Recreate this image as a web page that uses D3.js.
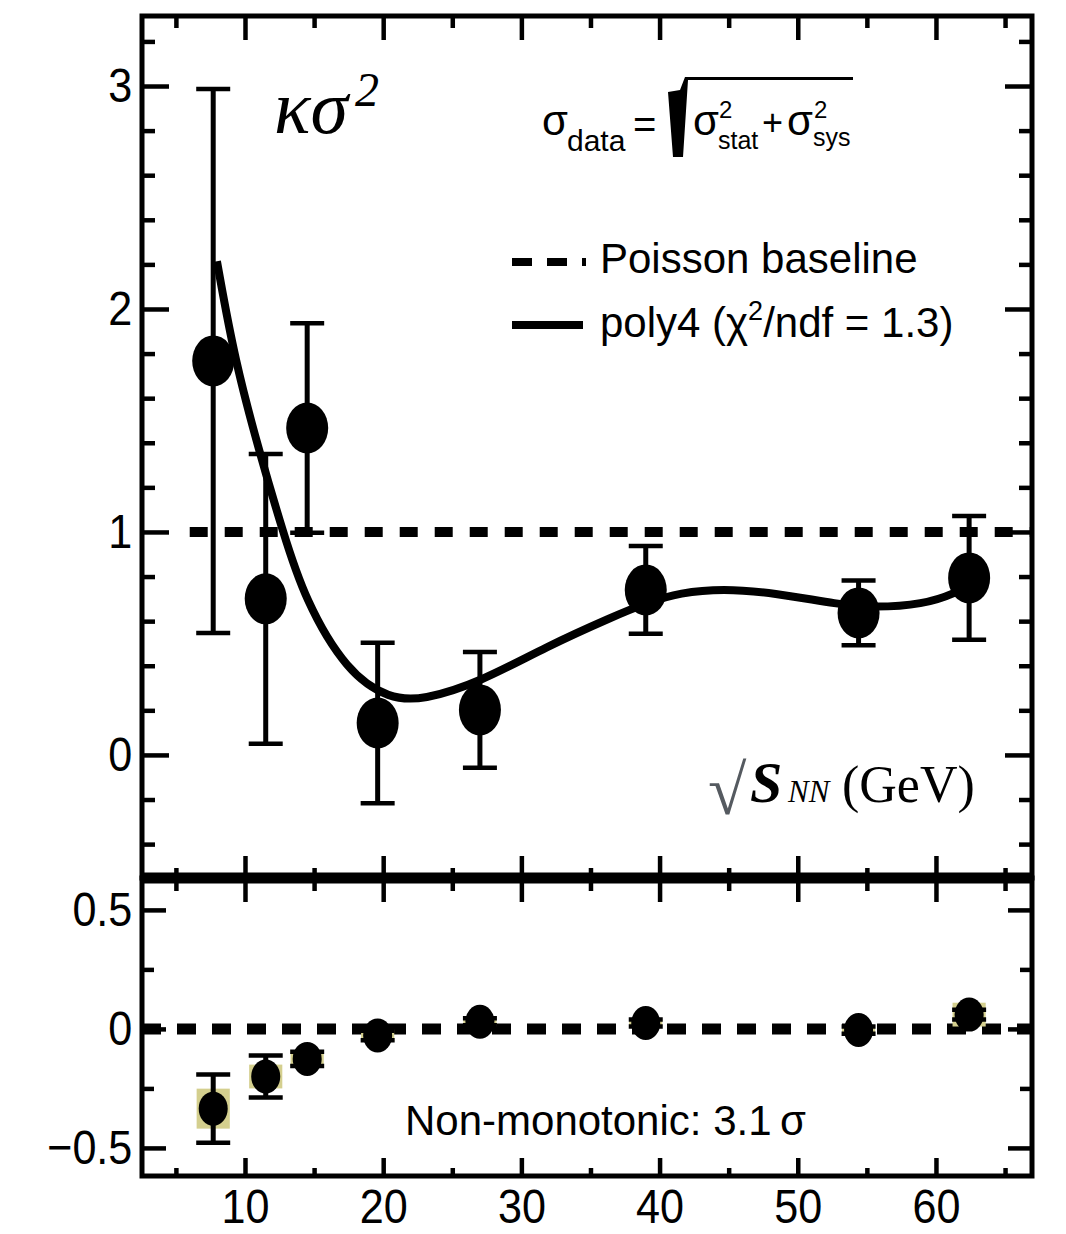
<!DOCTYPE html>
<html>
<head>
<meta charset="utf-8">
<script src="https://cdn.jsdelivr.net/npm/d3@7"></script>
<style>
  body { margin: 0; background: #fff; }
  text { font-family: "Liberation Sans", Arial, sans-serif; fill: #000; }
</style>
</head>
<body>
<div id="chart"></div>
<script>

// energies (sqrt sNN, GeV)
var energy = [7.7, 11.5, 14.5, 19.6, 27, 39, 54.4, 62.4];
// kappa sigma^2 and total error
var kappa = [1.767, 0.70, 1.466, 0.143, 0.202, 0.74, 0.637, 0.794];
var kappaErr = [1.22, 0.65, 0.47, 0.36, 0.26, 0.197, 0.145, 0.278];
// poly4 fit curve
var fitX = [7.97, 9.28, 11.09, 12.75, 14.3, 17.38, 20.49, 22.88, 27.0, 31.85, 36.63, 39.09, 41.48, 44.59, 48.2, 53.05, 55.44, 59.06, 61.52, 62.3];
var fitY = [2.214, 1.763, 1.348, 1.0, 0.70, 0.37, 0.25, 0.246, 0.326, 0.487, 0.62, 0.683, 0.728, 0.746, 0.728, 0.674, 0.661, 0.674, 0.728, 0.763];
// lower panel (data - fit)
var resid = [-0.335, -0.20, -0.126, -0.028, 0.03, 0.025, -0.005, 0.06];
var residErr = [0.143, 0.088, 0.03, 0.02, 0.015, 0.015, 0.015, 0.02];
var residSys = [0.084, 0.05, 0.03, 0.025, 0.02, 0.015, 0.02, 0.05];
// ticks
var xMajor = [10, 20, 30, 40, 50, 60];
var xMinor = [5, 15, 25, 35, 45, 55, 65];
var yTopMajor = [0, 1, 2, 3];
var yTopMinor = [-0.4, -0.2, 0.2, 0.4, 0.6, 0.8, 1.2, 1.4, 1.6, 1.8, 2.2, 2.4, 2.6, 2.8, 3.2];
var yBotMajor = [-0.5, 0, 0.5];
var yBotMinor = [-0.25, 0.25];

var width = 1066, height = 1234;
var left = 142, right = 1032;
var topY = 16, midY = 878, botY = 1176;

var svg = d3.select("#chart").append("svg")
  .attr("width", width)
  .attr("height", height);

var x = d3.scaleLinear().domain([2.547, 66.95]).range([left, right]);
var yTop = d3.scaleLinear().domain([-0.552, 3.314]).range([midY, topY]);
var yBot = d3.scaleLinear().domain([-0.618, 0.634]).range([botY, midY]);

function fmt(d) { return d < 0 ? "\u2212" + Math.abs(d) : String(d); }

function addAxes(y, yMaj, yMin, top, bottom, showX, tl) {
  // tl = tick lengths [xTopMaj, xTopMin, xBotMaj, xBotMin, yMaj, yMin]
  svg.append("g").attr("transform", "translate(0," + top + ")")
    .call(d3.axisTop(x).tickValues(xMajor).tickSize(-tl[0]).tickFormat(""));
  svg.append("g").attr("transform", "translate(0," + top + ")")
    .call(d3.axisTop(x).tickValues(xMinor).tickSize(-tl[1]).tickFormat(""));
  svg.append("g").attr("transform", "translate(0," + bottom + ")")
    .call(d3.axisBottom(x).tickValues(xMajor).tickSize(-tl[2]).tickPadding(12)
      .tickFormat(showX ? d3.format("d") : ""));
  svg.append("g").attr("transform", "translate(0," + bottom + ")")
    .call(d3.axisBottom(x).tickValues(xMinor).tickSize(-tl[3]).tickFormat(""));
  svg.append("g").attr("transform", "translate(" + left + ",0)")
    .call(d3.axisLeft(y).tickValues(yMaj).tickSize(-tl[4]).tickPadding(11).tickFormat(fmt));
  svg.append("g").attr("transform", "translate(" + left + ",0)")
    .call(d3.axisLeft(y).tickValues(yMin).tickSize(-tl[5]).tickFormat(""));
  svg.append("g").attr("transform", "translate(" + right + ",0)")
    .call(d3.axisRight(y).tickValues(yMaj).tickSize(-tl[4]).tickFormat(""));
  svg.append("g").attr("transform", "translate(" + right + ",0)")
    .call(d3.axisRight(y).tickValues(yMin).tickSize(-tl[5]).tickFormat(""));
}

addAxes(yTop, yTopMajor, yTopMinor, topY, midY, false, [24, 12, 22, 10, 27, 13]);
addAxes(yBot, yBotMajor, yBotMinor, midY, botY, true, [24, 13, 18, 8, 24, 12]);

svg.selectAll(".domain").remove();
svg.selectAll(".tick line").attr("stroke", "#000").attr("stroke-width", 4.5);
svg.selectAll(".tick text")
  .attr("font-family", "Liberation Sans, Arial, sans-serif")
  .attr("font-size", "49px")
  .attr("fill", "#000")
  .attr("transform", "scale(0.88,1)");

// frames
svg.append("rect").attr("x", left).attr("y", topY)
  .attr("width", right - left).attr("height", midY - topY)
  .attr("fill", "none").attr("stroke", "#000").attr("stroke-width", 5);
svg.append("rect").attr("x", left).attr("y", midY)
  .attr("width", right - left).attr("height", botY - midY)
  .attr("fill", "none").attr("stroke", "#000").attr("stroke-width", 5);
svg.append("line").attr("x1", left).attr("x2", right)
  .attr("y1", midY).attr("y2", midY)
  .attr("stroke", "#000").attr("stroke-width", 11);

// ---- top panel
// Poisson baseline
svg.append("line")
  .attr("x1", x(6)).attr("x2", right)
  .attr("y1", yTop(1)).attr("y2", yTop(1))
  .attr("stroke", "#000").attr("stroke-width", 10)
  .attr("stroke-dasharray", "18,17");

// fit curve
var fitLine = d3.line()
  .x(function(d, i) { return x(fitX[i]); })
  .y(function(d) { return yTop(d); })
  .curve(d3.curveBasis);
svg.append("path")
  .attr("d", fitLine(fitY))
  .attr("fill", "none").attr("stroke", "#000").attr("stroke-width", 8);

// error bars
var capW = 17;
var eb = svg.selectAll(".eb").data(energy).enter().append("g");
eb.append("line")
  .attr("x1", function(d) { return x(d); }).attr("x2", function(d) { return x(d); })
  .attr("y1", function(d, i) { return yTop(kappa[i] + kappaErr[i]); })
  .attr("y2", function(d, i) { return yTop(kappa[i] - kappaErr[i]); })
  .attr("stroke", "#000").attr("stroke-width", 5);
eb.append("line")
  .attr("x1", function(d) { return x(d) - capW; }).attr("x2", function(d) { return x(d) + capW; })
  .attr("y1", function(d, i) { return yTop(kappa[i] + kappaErr[i]); })
  .attr("y2", function(d, i) { return yTop(kappa[i] + kappaErr[i]); })
  .attr("stroke", "#000").attr("stroke-width", 4.5);
eb.append("line")
  .attr("x1", function(d) { return x(d) - capW; }).attr("x2", function(d) { return x(d) + capW; })
  .attr("y1", function(d, i) { return yTop(kappa[i] - kappaErr[i]); })
  .attr("y2", function(d, i) { return yTop(kappa[i] - kappaErr[i]); })
  .attr("stroke", "#000").attr("stroke-width", 4.5);

svg.selectAll(".mk").data(energy).enter().append("ellipse")
  .attr("cx", function(d) { return x(d); })
  .attr("cy", function(d, i) { return yTop(kappa[i]); })
  .attr("rx", 21).attr("ry", 25.5)
  .attr("fill", "#000");

// ---- bottom panel
svg.append("line")
  .attr("x1", left).attr("x2", right)
  .attr("y1", yBot(0)).attr("y2", yBot(0))
  .attr("stroke", "#000").attr("stroke-width", 11)
  .attr("stroke-dasharray", "19,16");

svg.selectAll(".sys").data(energy).enter().append("rect")
  .attr("x", function(d) { return x(d - 1.2); })
  .attr("width", function(d) { return x(d + 1.2) - x(d - 1.2); })
  .attr("y", function(d, i) { return yBot(resid[i] + residSys[i]); })
  .attr("height", function(d, i) { return yBot(resid[i] - residSys[i]) - yBot(resid[i] + residSys[i]); })
  .attr("fill", "#d4cf8e");

var eb2 = svg.selectAll(".eb2").data(energy).enter().append("g");
eb2.append("line")
  .attr("x1", function(d) { return x(d); }).attr("x2", function(d) { return x(d); })
  .attr("y1", function(d, i) { return yBot(resid[i] + residErr[i]); })
  .attr("y2", function(d, i) { return yBot(resid[i] - residErr[i]); })
  .attr("stroke", "#000").attr("stroke-width", 5);
eb2.append("line")
  .attr("x1", function(d) { return x(d) - capW; }).attr("x2", function(d) { return x(d) + capW; })
  .attr("y1", function(d, i) { return yBot(resid[i] + residErr[i]); })
  .attr("y2", function(d, i) { return yBot(resid[i] + residErr[i]); })
  .attr("stroke", "#000").attr("stroke-width", 4.5);
eb2.append("line")
  .attr("x1", function(d) { return x(d) - capW; }).attr("x2", function(d) { return x(d) + capW; })
  .attr("y1", function(d, i) { return yBot(resid[i] - residErr[i]); })
  .attr("y2", function(d, i) { return yBot(resid[i] - residErr[i]); })
  .attr("stroke", "#000").attr("stroke-width", 4.5);

svg.selectAll(".mk2").data(energy).enter().append("ellipse")
  .attr("cx", function(d) { return x(d); })
  .attr("cy", function(d, i) { return yBot(resid[i]); })
  .attr("rx", 14.5).attr("ry", 17)
  .attr("fill", "#000");

// ---- labels
function txt(str, tx, ty, size, fam, style) {
  return svg.append("text").attr("x", tx).attr("y", ty)
    .attr("font-size", size + "px")
    .style("font-family", fam || "Liberation Sans, Arial, sans-serif")
    .style("font-style", style || "normal")
    .text(str);
}
var serif = "Liberation Serif, Times New Roman, serif";

txt("\u03BA\u03C3", 274, 133, 76, serif, "italic");
txt("2", 355, 106, 48, serif, "italic");

// sigma_data formula
txt("\u03C3", 542, 135, 42);
txt("data", 567, 151, 30);
txt("=", 633, 138, 40);
svg.append("path")
  .attr("d", "M668,92 L680,90 L685,77 L853,77 L853,80 L688,80 L683,157 L673,157 Z")
  .attr("fill", "#000");
txt("\u03C3", 693, 135, 42);
txt("2", 719, 118, 24);
txt("stat", 718, 149, 25);
txt("+", 762, 135, 36);
txt("\u03C3", 787, 135, 42);
txt("2", 814, 118, 24);
txt("sys", 813, 146, 25);

// legend
svg.append("line").attr("x1", 512).attr("x2", 586).attr("y1", 262).attr("y2", 262)
  .attr("stroke", "#000").attr("stroke-width", 8).attr("stroke-dasharray", "20,15");
svg.append("line").attr("x1", 512).attr("x2", 583).attr("y1", 325).attr("y2", 325)
  .attr("stroke", "#000").attr("stroke-width", 8);
txt("Poisson baseline", 600, 273, 42);
var poly = txt("poly4 (\u03C7", 600, 337, 42);
poly.append("tspan").attr("dy", -17).attr("font-size", "27px").text("2");
poly.append("tspan").attr("dy", 17).text("/ndf = 1.3)");

// x axis title
txt("\u221A", 708, 814, 70, serif).style("fill", "#555a60");
txt("S", 750, 802, 58, serif, "italic").style("font-weight", "bold");
txt("NN", 788, 802, 31, serif, "italic");
txt("(GeV)", 842, 802, 52, serif);

txt("Non-monotonic: 3.1\u2009\u03C3", 405, 1135, 42);

</script>
</body>
</html>
